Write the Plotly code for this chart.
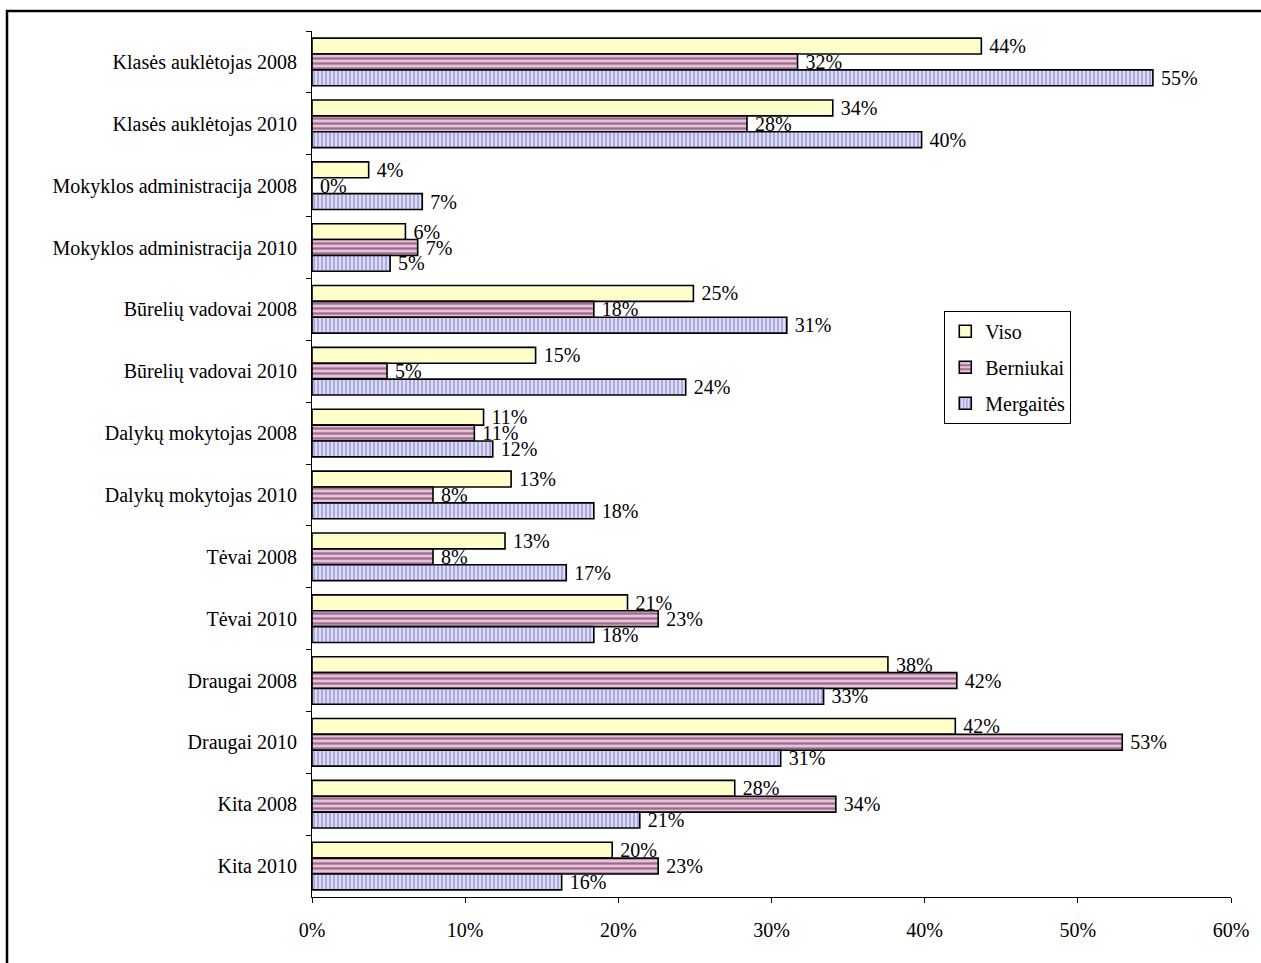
import plotly.graph_objects as go

categories = [
    "Klasės auklėtojas 2008", "Klasės auklėtojas 2010",
    "Mokyklos administracija 2008", "Mokyklos administracija 2010",
    "Būrelių vadovai 2008", "Būrelių vadovai 2010",
    "Dalykų mokytojas 2008", "Dalykų mokytojas 2010",
    "Tėvai 2008", "Tėvai 2010",
    "Draugai 2008", "Draugai 2010",
    "Kita 2008", "Kita 2010",
]
viso = [43.7, 34.0, 3.7, 6.1, 24.9, 14.6, 11.2, 13.0, 12.6, 20.6, 37.6, 42.0, 27.6, 19.6]
berniukai = [31.7, 28.4, 0.0, 6.9, 18.4, 4.9, 10.6, 7.9, 7.9, 22.6, 42.1, 52.9, 34.2, 22.6]
mergaites = [54.9, 39.8, 7.2, 5.1, 31.0, 24.4, 11.8, 18.4, 16.6, 18.4, 33.4, 30.6, 21.4, 16.3]
series_names = ["Viso", "Berniukai", "Mergaitės"]
x_ticks = [0, 10, 20, 30, 40, 50, 60]

FONT = "Liberation Serif, Times New Roman, serif"
FS = 20

styles = [
    dict(color="#FFFFCC", pattern=None),
    dict(color="#E6C3D8", pattern=dict(shape="-", fgcolor="#9C6A8C", bgcolor="#E6C3D8", size=5, solidity=0.45, fillmode="replace")),
    dict(color="#DCDCF4", pattern=dict(shape="|", fgcolor="#9E9EDC", bgcolor="#DCDCF4", size=4, solidity=0.4, fillmode="replace")),
]

fig = go.Figure()
for name, vals, st in zip(series_names, [viso, berniukai, mergaites], styles):
    marker = dict(color=st["color"], line=dict(color="black", width=1.6))
    if st["pattern"]:
        marker["pattern"] = st["pattern"]
    fig.add_trace(go.Bar(
        y=categories, x=[v / 100 for v in vals], name=name, orientation="h",
        marker=marker, texttemplate=" %{x:.0%}", textposition="outside",
        textfont=dict(family=FONT, size=FS, color="black"),
        constraintext="none", cliponaxis=False, legendgroup=name,
    ))

fig.update_layout(
    width=1261, height=963,
    margin=dict(l=312, r=30, t=31, b=66, autoexpand=False),
    paper_bgcolor="white", plot_bgcolor="white",
    barmode="group", bargap=0.23, bargroupgap=0,
    font=dict(family=FONT, size=FS, color="black"),
    showlegend=True,
    legend=dict(x=0.688, y=0.677, xanchor="left", yanchor="top",
                bgcolor="white", bordercolor="black", borderwidth=1,
                font=dict(family=FONT, size=FS, color="black"),
                traceorder="grouped", tracegroupgap=7, itemwidth=30),
    xaxis=dict(range=[0, 0.6], tickvals=[t / 100 for t in x_ticks], tickformat=".0%",
               showgrid=False, zeroline=False, showline=True, linecolor="black", linewidth=1,
               ticks="outside", ticklen=5, tickcolor="black", ticklabelstandoff=10,
               automargin=False, tickfont=dict(family=FONT, size=FS)),
    yaxis=dict(autorange="reversed", showgrid=False, showline=True, linecolor="black", linewidth=1,
               ticks="outside", ticklen=5, tickcolor="black", tickson="boundaries",
               ticklabelstandoff=10, automargin=False, tickfont=dict(family=FONT, size=FS)),
    shapes=[dict(type="rect", xref="paper", yref="paper",
                 x0=(7 - 312) / 919, x1=1.2, y0=-0.2, y1=(897 - 11) / 866,
                 line=dict(color="black", width=2.5), layer="below")],
)

fig.write_html("out.html", config={"displayModeBar": False},
               post_script="document.body.style.margin='0px';")
